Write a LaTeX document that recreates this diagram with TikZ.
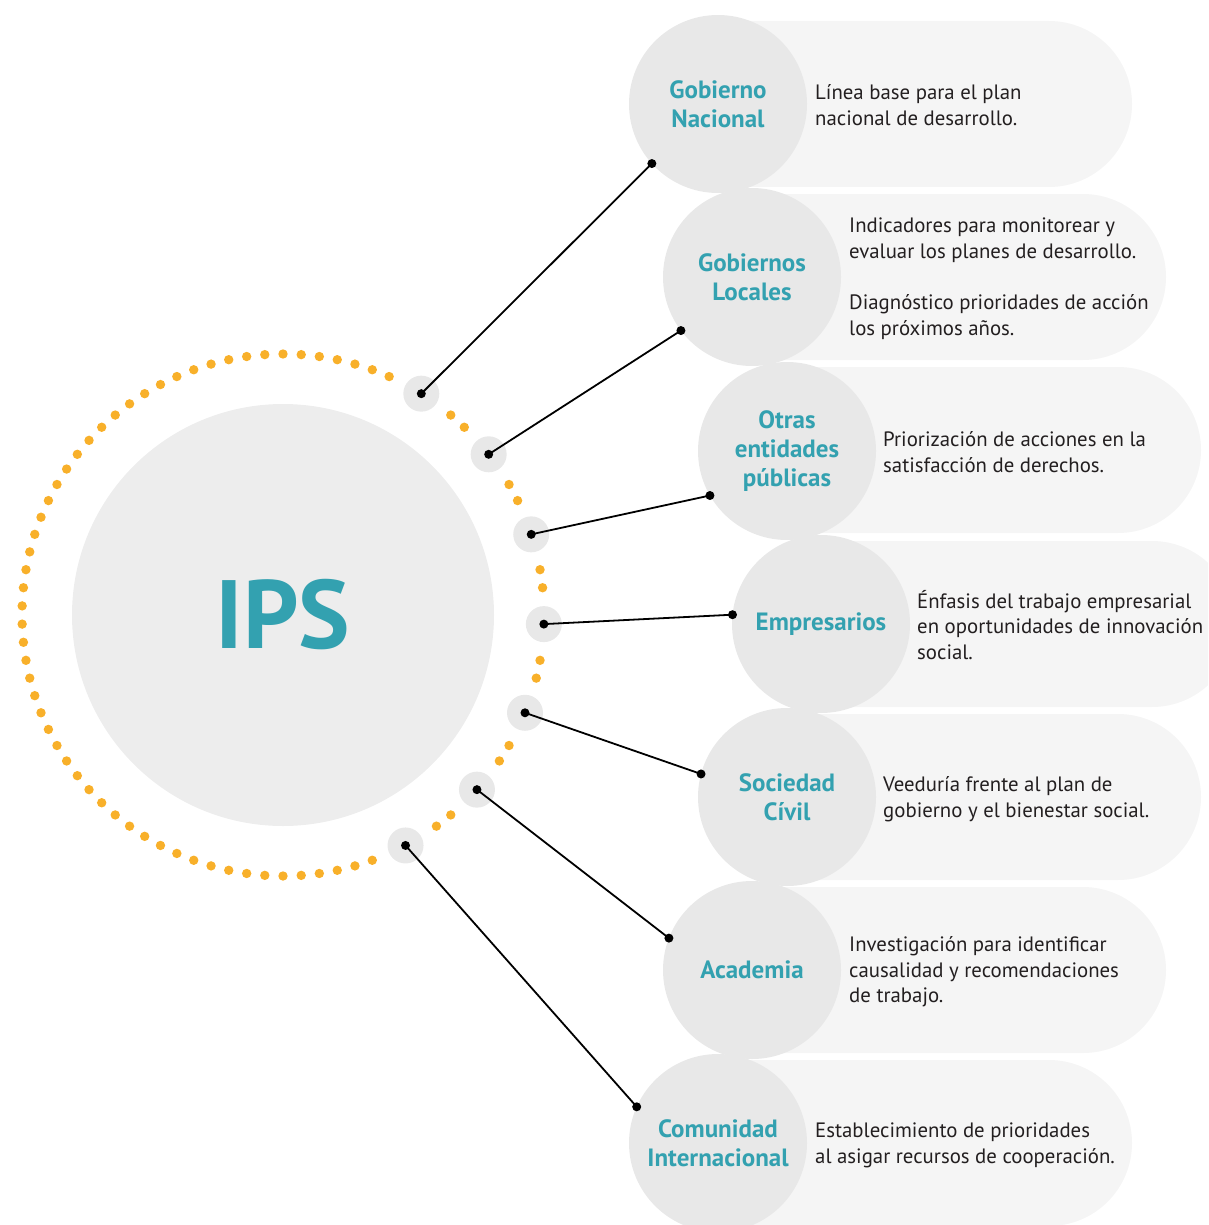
\documentclass[tikz,border=0pt]{standalone}
\usepackage{fontspec}
\setmainfont{PT Sans}
\definecolor{teal1}{HTML}{33A1B0}
\definecolor{orng}{HTML}{F8B02A}
\definecolor{pillc}{HTML}{F5F5F5}
\definecolor{catc}{HTML}{E8E8E8}
\definecolor{ipsc}{HTML}{EDEDED}
\definecolor{smallc}{HTML}{E8E8E8}
\definecolor{txt}{HTML}{231F20}
\begin{document}
\begin{tikzpicture}[x=1pt,y=1pt,
 catnode/.style={circle, fill=catc, minimum size=178pt, inner sep=0pt, outer sep=0pt, align=center, text=teal1, font=\bfseries\fontsize{25}{29}\selectfont},
 desc/.style={anchor=west, align=left, text=txt, font=\fontsize{20.8}{25.7}\selectfont, inner sep=0pt},
 ring/.style={circle, fill=smallc, minimum size=36pt, inner sep=0pt, outer sep=0pt},
 conn/.style={line width=1.8pt, black},
 enddot/.style={fill=black},
 pill/.style={fill=pillc}
 ]
\useasboundingbox (0,0) rectangle (1208,-1225);
\clip (0,0) rectangle (1208,-1225);
% pills
\foreach \cx/\cy in {718/104, 752/277, 787/450, 821/624, 787/797, 752/970, 718/1143}{
  \fill[pill] ({\cx},{-\cy+83}) -- ({\cx+331},{-\cy+83}) arc[start angle=90, end angle=-90, radius=83] -- ({\cx},{-\cy-83}) -- cycle;
}
% category circles
\node[catnode] (c1) at (718,-104) {Gobierno\\Nacional};
\node[catnode] (c2) at (752,-277) {Gobiernos\\Locales};
\node[catnode] (c3) at (787,-451) {Otras\\entidades\\públicas};
\node[catnode] (c4) at (821,-624) {Empresarios};
\node[catnode] (c5) at (787,-797) {Sociedad\\Cívil};
\node[catnode] (c6) at (752,-970) {Academia};
\node[catnode] (c7) at (718,-1143) {Comunidad\\Internacional};
% descriptions
\node[desc] (d1) at (815,-105) {Línea base para el plan\\nacional de desarrollo.};
\node[desc] (d2) at (849,-279) {Indicadores para monitorear y\\evaluar los planes de desarrollo.\\[25.7pt]Diagnóstico prioridades de acción\\los próximos años.};
\node[desc] (d3) at (883,-452) {Priorización de acciones en la\\satisfacción de derechos.};
\node[desc] (d4) at (917,-625) {Énfasis del trabajo empresarial\\en oportunidades de innovación\\social.};
\node[desc] (d5) at (883,-799) {Veeduría frente al plan de\\gobierno y el bienestar social.};
\node[desc] (d6) at (849,-972) {Investigación para identificar\\causalidad y recomendaciones\\de trabajo.};
\node[desc] (d7) at (815,-1145) {Establecimiento de prioridades\\al asigar recursos de cooperación.};
% IPS
\node[circle, fill=ipsc, minimum size=422pt, inner sep=0pt, text=teal1, font=\bfseries\fontsize{97}{97}\selectfont] (ips) at (283,-615) {IPS};
% dotted ring
\foreach \a in {66,70,...,290}{
  \fill[orng] ([shift={(\a:261)}]ips.center) circle (4.7);
}
\foreach \a in {46,50,26,30,6,10,-14,-10,-34,-30,-54,-50}{
  \fill[orng] ([shift={(\a:261)}]ips.center) circle (4.7);
}
% small rings
\node[ring] (g1) at ([shift={(58:261)}]ips.center) {};
\node[ring] (g2) at ([shift={(38:261)}]ips.center) {};
\node[ring] (g3) at ([shift={(18:261)}]ips.center) {};
\node[ring] (g4) at ([shift={(-2:261)}]ips.center) {};
\node[ring] (g5) at ([shift={(-22:261)}]ips.center) {};
\node[ring] (g6) at ([shift={(-42:261)}]ips.center) {};
\node[ring] (g7) at ([shift={(-62:261)}]ips.center) {};
% connectors
\foreach \i/\ang in {1/222, 2/217.6, 3/210, 4/174.3, 5/165.8, 6/159.5, 7/156.6}{
  \draw[conn] (g\i.center) -- (c\i.\ang);
  \fill[enddot] (g\i.center) circle (4.5);
  \fill[enddot] (c\i.\ang) circle (4.5);
}
\end{tikzpicture}
\end{document}
